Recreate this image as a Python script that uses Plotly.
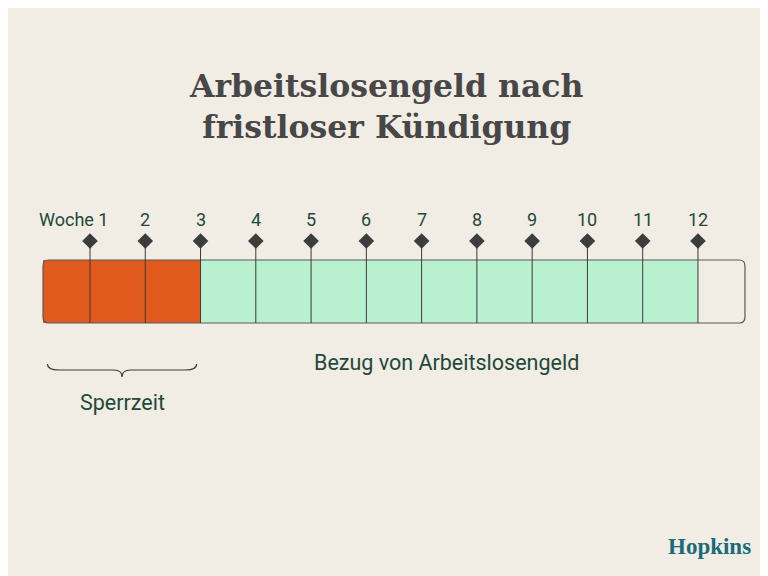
import plotly.graph_objects as go

weeks = [1, 2, 3, 4, 5, 6, 7, 8, 9, 10, 11, 12]
week_labels = ["Woche 1", "2", "3", "4", "5", "6", "7", "8", "9", "10", "11", "12"]
sperrzeit_weeks = 3
bezug_end = 12
bar_start, bar_end = 0.15, 12.85

fig = go.Figure()

# x in weeks, y in screen-pixel units from top (page has an 8px offset)
off = 8
px_per_week = 55.27
x0 = 1 - (90 - off) / px_per_week
x1 = x0 + 768 / px_per_week

shapes = []
shapes.append(dict(type="rect", x0=bar_start, x1=sperrzeit_weeks, y0=260, y1=323,
                   fillcolor="#e05a1e", line=dict(width=0), layer="below"))
shapes.append(dict(type="rect", x0=sperrzeit_weeks, x1=bezug_end, y0=260, y1=323,
                   fillcolor="#b8f0d0", line=dict(width=0), layer="below"))
r = 0.1
ry = 6
path = (f"M {bar_start+r},260 L {bar_end-r},260 Q {bar_end},260 {bar_end},{260+ry} "
        f"L {bar_end},{323-ry} Q {bar_end},323 {bar_end-r},323 L {bar_start+r},323 "
        f"Q {bar_start},323 {bar_start},{323-ry} L {bar_start},{260+ry} Q {bar_start},260 {bar_start+r},260 Z")
shapes.append(dict(type="path", path=path, line=dict(color="#5a5a5a", width=1.2)))
for w in weeks:
    shapes.append(dict(type="line", x0=w, x1=w, y0=241, y1=323, line=dict(color="#3a3a3a", width=1)))
bl, br = 0.23, 2.93
bm = (bl + br) / 2
brace = (f"M {bl},364 Q {bl},370 {bl+0.2},370 L {bm-0.15},370 Q {bm},370 {bm},377 "
         f"Q {bm},370 {bm+0.15},370 L {br-0.2},370 Q {br},370 {br},364")
shapes.append(dict(type="path", path=brace, line=dict(color="#3a3a3a", width=1.2)))

fig.add_trace(go.Scatter(x=weeks, y=[241] * len(weeks), mode="markers",
                         marker=dict(symbol="diamond", size=12, color="#3d3d3d"),
                         hoverinfo="skip", showlegend=False))

ann = []
for w, lab in zip(weeks, week_labels):
    ann.append(dict(x=w, y=219, text=lab, showarrow=False, xanchor="right" if w == 1 else "center",
                    xshift=20 if w == 1 else 0,
                    font=dict(size=18, color="#1d4a3b", family="Roboto")))
ann.append(dict(x=(sperrzeit_weeks + bezug_end) / 2 - 0.05, y=362, text="Bezug von Arbeitslosengeld",
                showarrow=False, font=dict(size=21.5, color="#1d4a3b", family="Roboto")))
ann.append(dict(x=bm, y=402, text="Sperrzeit", showarrow=False,
                font=dict(size=21.5, color="#1d4a3b", family="Roboto")))
ann.append(dict(x=(x0 + x1) / 2 - 0.1, y=106, text="<b>Arbeitslosengeld nach<br>fristloser Kündigung</b>",
                showarrow=False, font=dict(size=31.5, color="#474747", family="DejaVu Serif")))
ann.append(dict(x=13.0, y=546, text="<b>Hopkins</b>", showarrow=False, xanchor="right",
                font=dict(size=23, color="#1a6b78", family="Liberation Serif")))

fig.update_layout(
    width=768, height=576, margin=dict(l=0, r=0, t=0, b=0),
    paper_bgcolor="#f1ece4", plot_bgcolor="#f1ece4",
    xaxis=dict(range=[x0, x1], visible=False, fixedrange=True),
    yaxis=dict(range=[576 + off, off], visible=False, fixedrange=True),
    shapes=shapes, annotations=ann,
)

fig.write_html("out.html")
